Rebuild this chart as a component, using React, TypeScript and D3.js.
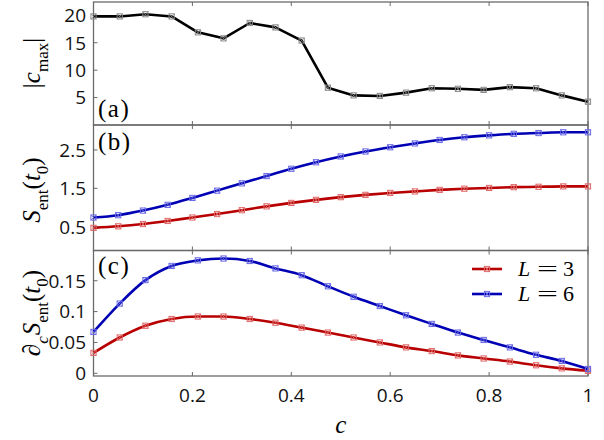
import { useEffect, useRef } from 'react';
import * as d3 from 'd3';

// sample grids of the coupling c
const cCoarse = [0, 0.053, 0.105, 0.158, 0.211, 0.263, 0.316, 0.368, 0.421, 0.474,
  0.526, 0.579, 0.632, 0.684, 0.737, 0.789, 0.842, 0.895, 0.947, 1];
const cFine = [0, 0.05, 0.1, 0.15, 0.2, 0.25, 0.3, 0.35, 0.4, 0.45, 0.5,
  0.55, 0.6, 0.65, 0.7, 0.75, 0.8, 0.85, 0.9, 0.95, 1];

// (a) |c_max|
const cMax = [19.8, 19.8, 20.2, 19.8, 16.9, 15.8, 18.6, 17.8, 15.4, 6.8,
  5.4, 5.3, 5.9, 6.7, 6.6, 6.4, 6.9, 6.7, 5.4, 4.25];

// (b) S_ent(t0)
const sEntL3 = [0.47, 0.51, 0.57, 0.65, 0.74, 0.83, 0.93, 1.03, 1.12, 1.2, 1.27,
  1.33, 1.38, 1.42, 1.46, 1.49, 1.51, 1.53, 1.54, 1.55, 1.55];
const sEntL6 = [0.74, 0.8, 0.92, 1.07, 1.25, 1.44, 1.63, 1.82, 2.01, 2.18, 2.33,
  2.46, 2.57, 2.67, 2.76, 2.83, 2.88, 2.92, 2.94, 2.96, 2.96];

// (c) d_c S_ent(t0)
const dSL3 = [0.033, 0.058, 0.077, 0.088, 0.092, 0.092, 0.088, 0.082, 0.074, 0.066,
  0.058, 0.05, 0.042, 0.036, 0.029, 0.024, 0.019, 0.013, 0.008, 0.004];
const dSL6 = [0.067, 0.113, 0.151, 0.174, 0.183, 0.186, 0.182, 0.17, 0.159, 0.141,
  0.124, 0.109, 0.094, 0.08, 0.066, 0.054, 0.042, 0.03, 0.02, 0.007];

const xTicks = [0, 0.2, 0.4, 0.6, 0.8, 1];
const ticksA = [5, 10, 15, 20];
const ticksB = [0.5, 1.5, 2.5];
const ticksC = [0, 0.05, 0.1, 0.15];
const tickLabelsC = ['0', '0.05', '0.1', '0.15'];
const legendLabels = ['3', '6'];

const RED = '#b80000';
const BLUE = '#0000b4';
const RED_MK = '#e06a6a';
const BLUE_MK = '#6a6ae6';
const FRAME = '#6a6a6a';
const SERIF = "'Liberation Serif', 'Times New Roman', Times, Tinos, 'Noto Serif', 'DejaVu Serif', FreeSerif, 'Nimbus Roman', serif";
const SANS = "'Open Sans', sans-serif";

type Part = { s: string; it?: boolean; sub?: boolean; dx?: number };

function mathText(g: any, parts: Part[], size: number) {
  const t = g.append('text').style('font-family', SERIF).style('font-size', `${size}px`);
  let shift = 0;
  parts.forEach(p => {
    const ts = t.append('tspan').text(p.s);
    if (p.it) ts.style('font-style', 'italic');
    const target = p.sub ? size * 0.3 : 0;
    if (target !== shift) {
      ts.attr('dy', target - shift);
      shift = target;
    }
    if (p.sub) ts.style('font-size', `${size * 0.68}px`);
    if (p.dx) ts.attr('dx', p.dx);
  });
  return t;
}

export default function App() {
  const svgRef = useRef<SVGSVGElement>(null);

  useEffect(() => {
    if (!svgRef.current) return;
    const svg = d3.select(svgRef.current);
    svg.selectAll('*').remove();

    const x = d3.scaleLinear().domain([0, 1]).range([93.5, 588]);

    const panels = [
      { top: 2, bottom: 125, domain: [0, 22.43], ticks: ticksA, labels: ticksA.map(String), tag: '(a)', tagY: 117 },
      { top: 125, bottom: 250.5, domain: [-0.12, 3.15], ticks: ticksB, labels: ticksB.map(String), tag: '(b)', tagY: 150 },
      { top: 250.5, bottom: 376, domain: [-0.0044, 0.199], ticks: ticksC, labels: tickLabelsC, tag: '(c)', tagY: 274 },
    ];
    const ys = panels.map(p => d3.scaleLinear().domain(p.domain).range([p.bottom, p.top]));

    panels.forEach((p, i) => {
      const g = svg.append('g');
      const y = ys[i];
      // frame
      g.append('rect')
        .attr('x', x(0)).attr('y', p.top)
        .attr('width', x(1) - x(0)).attr('height', p.bottom - p.top)
        .attr('fill', 'none').attr('stroke', FRAME).attr('stroke-width', 1.3);
      // inward x ticks on top and bottom
      xTicks.forEach(t => {
        g.append('line').attr('x1', x(t)).attr('x2', x(t))
          .attr('y1', p.bottom).attr('y2', p.bottom - 4)
          .attr('stroke', FRAME).attr('stroke-width', 1);
        g.append('line').attr('x1', x(t)).attr('x2', x(t))
          .attr('y1', p.top).attr('y2', p.top + 4)
          .attr('stroke', FRAME).attr('stroke-width', 1);
      });
      // y ticks and labels
      p.ticks.forEach((t, k) => {
        g.append('line').attr('x1', x(0)).attr('x2', x(0) + 4)
          .attr('y1', y(t)).attr('y2', y(t))
          .attr('stroke', FRAME).attr('stroke-width', 1);
        g.append('text')
          .attr('x', 86).attr('y', y(t)).attr('dy', '0.36em')
          .attr('text-anchor', 'end')
          .style('font-family', SANS).style('font-size', '19px')
          .attr('fill', '#111')
          .text(p.labels[k]);
      });
      // panel tag
      g.append('text')
        .attr('x', 98).attr('y', p.tagY)
        .style('font-family', SERIF).style('font-size', '25px')
        .attr('letter-spacing', 1.5)
        .text(p.tag);
    });

    // x tick labels under the last panel
    xTicks.forEach(t => {
      svg.append('text')
        .attr('x', x(t)).attr('y', 401.5)
        .attr('text-anchor', 'middle')
        .style('font-family', SANS).style('font-size', '19px')
        .attr('fill', '#111')
        .text(String(t));
    });

    const drawMarker = (g: any, cx: number, cy: number, color: string) => {
      const s = 2.6;
      g.append('rect').attr('x', cx - s).attr('y', cy - s)
        .attr('width', 2 * s).attr('height', 2 * s)
        .attr('fill', 'none').attr('stroke', color).attr('stroke-width', 1);
      g.append('path')
        .attr('d', `M${cx - s},${cy - s}L${cx + s},${cy + s}M${cx - s},${cy + s}L${cx + s},${cy - s}`)
        .attr('stroke', color).attr('stroke-width', 0.8);
    };

    const series = (cs: number[], vs: number[], y: any, color: string, mk: string, smooth: boolean) => {
      const g = svg.append('g');
      const pts = cs.map((c, i) => [x(c), y(vs[i])] as [number, number]);
      const line = d3.line().curve(smooth ? d3.curveMonotoneX : d3.curveLinear);
      g.append('path').attr('d', line(pts))
        .attr('fill', 'none').attr('stroke', color)
        .attr('stroke-width', 2.6).attr('stroke-linejoin', 'round');
      pts.forEach(([px, py]) => drawMarker(g, px, py, mk));
    };

    series(cCoarse, cMax, ys[0], '#000', '#8a8a8a', false);
    series(cFine, sEntL3, ys[1], RED, RED_MK, true);
    series(cFine, sEntL6, ys[1], BLUE, BLUE_MK, true);
    series(cCoarse, dSL3, ys[2], RED, RED_MK, true);
    series(cCoarse, dSL6, ys[2], BLUE, BLUE_MK, true);

    // legend
    [[RED, RED_MK], [BLUE, BLUE_MK]].forEach(([col, mk], i) => {
      const ly = 269 + i * 25;
      const g = svg.append('g');
      g.append('line').attr('x1', 472).attr('x2', 502).attr('y1', ly).attr('y2', ly)
        .attr('stroke', col).attr('stroke-width', 2.6);
      drawMarker(g, 487, ly, mk);
      g.append('text').attr('x', 518).attr('y', ly + 7)
        .style('font-family', SERIF).style('font-size', '22px').style('font-style', 'italic')
        .text('L');
      g.append('text').attr('x', 537).attr('y', ly + 7)
        .style('font-family', SERIF).style('font-size', '22px')
        .attr('textLength', 21).attr('lengthAdjust', 'spacingAndGlyphs')
        .text('=');
      g.append('text').attr('x', 563).attr('y', ly + 7)
        .style('font-family', SERIF).style('font-size', '22px')
        .text(legendLabels[i]);
    });

    // axis titles
    const titles: [Part[], number][] = [
      [[{ s: '|' }, { s: 'c', it: true }, { s: 'max', sub: true }, { s: '|' }], 63],
      [[{ s: 'S', it: true }, { s: 'ent', sub: true }, { s: '(' }, { s: 't', it: true }, { s: '0', sub: true }, { s: ')' }], 190],
      [[{ s: '∂' }, { s: 'c', it: true, sub: true }, { s: 'S', it: true, dx: 1 }, { s: 'ent', sub: true }, { s: '(' }, { s: 't', it: true }, { s: '0', sub: true }, { s: ')' }], 313],
    ];
    titles.forEach(([parts, cy]) => {
      mathText(svg, parts, 25)
        .attr('text-anchor', 'middle')
        .attr('transform', `translate(40,${cy}) rotate(-90)`);
    });

    mathText(svg, [{ s: 'c', it: true }], 25)
      .attr('text-anchor', 'middle')
      .attr('x', x(0.5)).attr('y', 433);
  }, []);

  return (
    <svg
      ref={svgRef}
      width={604}
      height={440}
      style={{ position: 'absolute', left: 0, top: 0, background: '#fff' }}
    />
  );
}
